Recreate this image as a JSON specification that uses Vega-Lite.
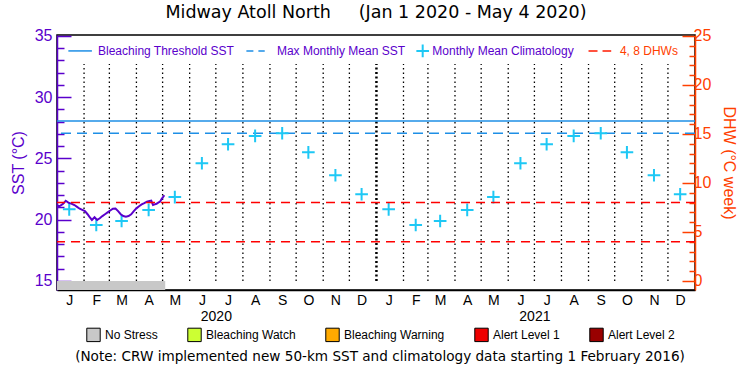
{
  "$schema": "https://vega.github.io/schema/vega-lite/v6.json",
  "width": 638,
  "height": 255,
  "autosize": {"type": "none"},
  "padding": {"left": 57, "top": 35, "right": 55, "bottom": 85},
  "background": "white",
  "config": {
    "view": {"stroke": "black", "strokeWidth": 1.5},
    "font": "Liberation Sans",
    "axis": {"grid": false, "labelOverlap": false, "labelBound": false, "labelFlush": false}
  },
  "title": {"text": "Midway Atoll North\u00a0\u00a0\u00a0\u00a0\u00a0(Jan 1 2020 - May 4 2020)", "font": "DejaVu Sans", "fontSize": 17.5, "fontWeight": "normal", "color": "black", "offset": 6, "anchor": "middle"},
  "datasets": {
    "sst": [
      {"date": "2020-01-01", "sst": 21.2}, {"date": "2020-01-03", "sst": 21.1}, {"date": "2020-01-05", "sst": 21.15},
      {"date": "2020-01-08", "sst": 21.3}, {"date": "2020-01-11", "sst": 21.55}, {"date": "2020-01-14", "sst": 21.4},
      {"date": "2020-01-18", "sst": 21.3}, {"date": "2020-01-21", "sst": 21.2}, {"date": "2020-01-24", "sst": 21.05},
      {"date": "2020-01-27", "sst": 20.9}, {"date": "2020-01-30", "sst": 20.8}, {"date": "2020-02-02", "sst": 20.7},
      {"date": "2020-02-05", "sst": 20.45}, {"date": "2020-02-07", "sst": 20.25}, {"date": "2020-02-10", "sst": 19.98},
      {"date": "2020-02-13", "sst": 20.2}, {"date": "2020-02-16", "sst": 19.98}, {"date": "2020-02-19", "sst": 20.12},
      {"date": "2020-02-22", "sst": 20.3}, {"date": "2020-02-25", "sst": 20.45}, {"date": "2020-02-28", "sst": 20.6},
      {"date": "2020-03-02", "sst": 20.75}, {"date": "2020-03-05", "sst": 20.9}, {"date": "2020-03-08", "sst": 20.92},
      {"date": "2020-03-11", "sst": 20.7}, {"date": "2020-03-14", "sst": 20.45}, {"date": "2020-03-17", "sst": 20.3},
      {"date": "2020-03-20", "sst": 20.25}, {"date": "2020-03-23", "sst": 20.3}, {"date": "2020-03-26", "sst": 20.44},
      {"date": "2020-03-29", "sst": 20.7}, {"date": "2020-04-01", "sst": 20.93}, {"date": "2020-04-04", "sst": 21.1},
      {"date": "2020-04-07", "sst": 21.25}, {"date": "2020-04-10", "sst": 21.35}, {"date": "2020-04-13", "sst": 21.47},
      {"date": "2020-04-16", "sst": 21.53}, {"date": "2020-04-18", "sst": 21.56}, {"date": "2020-04-20", "sst": 21.2},
      {"date": "2020-04-22", "sst": 21.25}, {"date": "2020-04-24", "sst": 21.3}, {"date": "2020-04-26", "sst": 21.4},
      {"date": "2020-04-28", "sst": 21.47}, {"date": "2020-04-30", "sst": 21.7}, {"date": "2020-05-02", "sst": 21.9},
      {"date": "2020-05-03", "sst": 22.0}
    ],
    "clim": [
      {"date": "2020-01-15", "sst": 20.85}, {"date": "2020-02-15", "sst": 19.57}, {"date": "2020-03-15", "sst": 19.9},
      {"date": "2020-04-15", "sst": 20.8}, {"date": "2020-05-15", "sst": 21.85}, {"date": "2020-06-15", "sst": 24.61},
      {"date": "2020-07-15", "sst": 26.16}, {"date": "2020-08-15", "sst": 26.84}, {"date": "2020-09-15", "sst": 27.06},
      {"date": "2020-10-15", "sst": 25.5}, {"date": "2020-11-15", "sst": 23.63}, {"date": "2020-12-15", "sst": 22.08},
      {"date": "2021-01-15", "sst": 20.85}, {"date": "2021-02-15", "sst": 19.57}, {"date": "2021-03-15", "sst": 19.9},
      {"date": "2021-04-15", "sst": 20.8}, {"date": "2021-05-15", "sst": 21.85}, {"date": "2021-06-15", "sst": 24.61},
      {"date": "2021-07-15", "sst": 26.16}, {"date": "2021-08-15", "sst": 26.84}, {"date": "2021-09-15", "sst": 27.06},
      {"date": "2021-10-15", "sst": 25.5}, {"date": "2021-11-15", "sst": 23.63}, {"date": "2021-12-15", "sst": 22.08}
    ],
    "months": [
      {"date": "2020-02-01", "kind": "month"}, {"date": "2020-03-01", "kind": "month"}, {"date": "2020-04-01", "kind": "month"},
      {"date": "2020-05-01", "kind": "month"}, {"date": "2020-06-01", "kind": "month"}, {"date": "2020-07-01", "kind": "month"},
      {"date": "2020-08-01", "kind": "month"}, {"date": "2020-09-01", "kind": "month"}, {"date": "2020-10-01", "kind": "month"},
      {"date": "2020-11-01", "kind": "month"}, {"date": "2020-12-01", "kind": "month"}, {"date": "2021-01-01", "kind": "year"},
      {"date": "2021-02-01", "kind": "month"}, {"date": "2021-03-01", "kind": "month"}, {"date": "2021-04-01", "kind": "month"},
      {"date": "2021-05-01", "kind": "month"}, {"date": "2021-06-01", "kind": "month"}, {"date": "2021-07-01", "kind": "month"},
      {"date": "2021-08-01", "kind": "month"}, {"date": "2021-09-01", "kind": "month"}, {"date": "2021-10-01", "kind": "month"},
      {"date": "2021-11-01", "kind": "month"}, {"date": "2021-12-01", "kind": "month"}
    ],
    "stress": [
      {"start": "2020-01-01", "end": "2020-05-04", "status": "No Stress"}
    ],
    "reflines": [
      {"name": "Bleaching Threshold SST", "sst": 28.06},
      {"name": "Max Monthly Mean SST", "sst": 27.06}
    ],
    "dhw": [{"dhw": 4}, {"dhw": 8}],
    "legend": [
      {"key": "thr", "x1": "2020-01-14", "x2": "2020-02-10", "tx": "2020-02-17", "label": "Bleaching Threshold SST", "y": 33.78},
      {"key": "mmm", "x1": "2020-08-05", "x2": "2020-08-26", "tx": "2020-09-09", "label": "Max Monthly Mean SST", "y": 33.78},
      {"key": "clim", "x1": "2021-02-23", "x2": "2021-02-23", "tx": "2021-03-06", "label": "Monthly Mean Climatology", "y": 33.78},
      {"key": "dhw", "x1": "2021-09-01", "x2": "2021-09-27", "tx": "2021-10-07", "label": "4, 8 DHWs", "y": 33.78}
    ]
  },
  "layer": [
    {
      "layer": [
        {
          "data": {"name": "stress"},
          "mark": {"type": "rect"},
          "encoding": {
            "x": {
              "field": "start", "type": "temporal",
              "scale": {"type": "utc", "domain": [{"year": 2020, "month": 1, "date": 1, "utc": true}, {"year": 2022, "month": 1, "date": 1, "utc": true}], "nice": false},
              "axis": {
                "title": null,
                "tickCount": 200,
                "values": [
                  {"year": 2020, "month": 1, "date": 15, "utc": true}, {"year": 2020, "month": 2, "date": 15, "utc": true},
                  {"year": 2020, "month": 3, "date": 15, "utc": true}, {"year": 2020, "month": 4, "date": 15, "utc": true},
                  {"year": 2020, "month": 5, "date": 15, "utc": true}, {"year": 2020, "month": 6, "date": 15, "utc": true},
                  {"year": 2020, "month": 7, "date": 1, "utc": true},
                  {"year": 2020, "month": 7, "date": 15, "utc": true}, {"year": 2020, "month": 8, "date": 15, "utc": true},
                  {"year": 2020, "month": 9, "date": 15, "utc": true}, {"year": 2020, "month": 10, "date": 15, "utc": true},
                  {"year": 2020, "month": 11, "date": 15, "utc": true}, {"year": 2020, "month": 12, "date": 15, "utc": true},
                  {"year": 2021, "month": 1, "date": 15, "utc": true}, {"year": 2021, "month": 2, "date": 15, "utc": true},
                  {"year": 2021, "month": 3, "date": 15, "utc": true}, {"year": 2021, "month": 4, "date": 15, "utc": true},
                  {"year": 2021, "month": 5, "date": 15, "utc": true}, {"year": 2021, "month": 6, "date": 15, "utc": true},
                  {"year": 2021, "month": 7, "date": 1, "utc": true},
                  {"year": 2021, "month": 7, "date": 15, "utc": true}, {"year": 2021, "month": 8, "date": 15, "utc": true},
                  {"year": 2021, "month": 9, "date": 15, "utc": true}, {"year": 2021, "month": 10, "date": 15, "utc": true},
                  {"year": 2021, "month": 11, "date": 15, "utc": true}, {"year": 2021, "month": 12, "date": 15, "utc": true}
                ],
                "labelExpr": "utcdate(datum.value) == 1 ? ['', utcFormat(datum.value, '%Y')] : substring(utcFormat(datum.value, '%b'), 0, 1)",
                "ticks": false,
                "domainColor": "black",
                "domainWidth": 1.5,
                "labelColor": "black",
                "labelFontSize": 14,
                "labelPadding": 3,
                "labelLineHeight": 16,
                "labelOverlap": false,
                "labelBound": false,
                "labelFlush": false,
                "labelAngle": 0
              }
            },
            "x2": {"field": "end"},
            "y": {
              "datum": 14.265, "type": "quantitative",
              "scale": {"domain": [14.265, 35.08], "nice": false, "zero": false},
              "axis": {
                "title": "SST (°C)",
                "titleColor": "#5a00cc",
                "titleFontSize": 16,
                "titleFontWeight": "normal",
                "titlePadding": 8,
                "tickCount": 200,
                "values": [15, 16, 17, 18, 19, 20, 21, 22, 23, 24, 25, 26, 27, 28, 29, 30, 31, 32, 33, 34, 35],
                "labelExpr": "datum.value % 5 === 0 ? datum.value : ''",
                "tickSize": {"condition": {"test": "datum.value % 5 === 0", "value": -14}, "value": -7},
                "tickColor": "#5a00cc",
                "tickWidth": 1.5,
                "domainColor": "#5a00cc",
                "domainWidth": 1.5,
                "labelColor": "#5a00cc",
                "labelFontSize": 16,
                "labelPadding": 19,
                "labelOverlap": false,
                "labelBound": false,
                "labelFlush": false
              }
            },
            "y2": {"datum": 15},
            "color": {
              "field": "status", "type": "nominal",
              "scale": {
                "domain": ["No Stress", "Bleaching Watch", "Bleaching Warning", "Alert Level 1", "Alert Level 2"],
                "range": ["#c8c8c8", "#ccff33", "#ffaa00", "#ee0000", "#990000"]
              },
              "legend": {
                "orient": "none",
                "legendX": 18,
                "legendY": 292,
                "direction": "horizontal",
                "columns": 5,
                "title": "(Note: CRW implemented new 50-km SST and climatology data starting 1 February 2016)",
                "titleOrient": "bottom",
                "titleAnchor": "middle",
                "titleFont": "DejaVu Sans",
                "titleFontSize": 13.6,
                "titleFontWeight": "normal",
                "titleColor": "black",
                "titleLimit": 1000,
                "titlePadding": 6,
                "symbolType": "square",
                "symbolSize": 180,
                "symbolStrokeColor": "black",
                "symbolStrokeWidth": 1,
                "symbolOpacity": 1,
                "labelFontSize": 12,
                "labelColor": "black",
                "labelLimit": 0,
                "columnPadding": 27
              }
            }
          }
        },
        {
          "mark": {"type": "rule", "color": "black", "strokeWidth": 1.5},
          "encoding": {"y": {"datum": 15}}
        },
        {
          "data": {"name": "months"},
          "transform": [{"filter": "datum.kind === 'month'"}],
          "mark": {"type": "rule", "color": "black", "strokeWidth": 1.3, "strokeDash": [1.5, 3]},
          "encoding": {"x": {"field": "date", "type": "temporal"}, "y": {"datum": 15}, "y2": {"datum": 32.71}}
        },
        {
          "data": {"name": "months"},
          "transform": [{"filter": "datum.kind === 'year'"}],
          "mark": {"type": "rule", "color": "black", "strokeWidth": 2.5, "strokeDash": [2, 2.5]},
          "encoding": {"x": {"field": "date", "type": "temporal"}, "y": {"datum": 15}, "y2": {"datum": 32.71}}
        },
        {
          "data": {"name": "reflines"},
          "transform": [{"filter": "datum.name === 'Bleaching Threshold SST'"}],
          "mark": {"type": "rule", "color": "#1e8fe6", "strokeWidth": 1.5},
          "encoding": {"y": {"field": "sst", "type": "quantitative"}}
        },
        {
          "data": {"name": "reflines"},
          "transform": [{"filter": "datum.name === 'Max Monthly Mean SST'"}],
          "mark": {"type": "rule", "color": "#1e8fe6", "strokeWidth": 1.5, "strokeDash": [10, 6]},
          "encoding": {"y": {"field": "sst", "type": "quantitative"}}
        },
        {
          "data": {"name": "clim"},
          "mark": {"type": "point", "shape": "M-1,0H1M0,-1V1", "filled": false, "size": 160, "strokeWidth": 2, "color": "#1ec8f5", "opacity": 1},
          "encoding": {"x": {"field": "date", "type": "temporal"}, "y": {"field": "sst", "type": "quantitative"}}
        },
        {
          "data": {"name": "sst"},
          "mark": {"type": "line", "color": "#5a00cc", "strokeWidth": 2},
          "encoding": {"x": {"field": "date", "type": "temporal"}, "y": {"field": "sst", "type": "quantitative"}}
        },
        {
          "data": {"name": "legend"},
          "transform": [{"filter": "datum.key === 'thr'"}],
          "mark": {"type": "rule", "color": "#1e8fe6", "strokeWidth": 1.5},
          "encoding": {"x": {"field": "x1", "type": "temporal"}, "x2": {"field": "x2"}, "y": {"field": "y", "type": "quantitative"}}
        },
        {
          "data": {"name": "legend"},
          "transform": [{"filter": "datum.key === 'mmm'"}],
          "mark": {"type": "rule", "color": "#1e8fe6", "strokeWidth": 1.5, "strokeDash": [7, 5]},
          "encoding": {"x": {"field": "x1", "type": "temporal"}, "x2": {"field": "x2"}, "y": {"field": "y", "type": "quantitative"}}
        },
        {
          "data": {"name": "legend"},
          "transform": [{"filter": "datum.key === 'clim'"}],
          "mark": {"type": "point", "shape": "M-1,0H1M0,-1V1", "filled": false, "size": 160, "strokeWidth": 2, "color": "#1ec8f5", "opacity": 1},
          "encoding": {"x": {"field": "x1", "type": "temporal"}, "y": {"field": "y", "type": "quantitative"}}
        },
        {
          "data": {"name": "legend"},
          "transform": [{"filter": "datum.key === 'dhw'"}],
          "mark": {"type": "rule", "color": "#ff1a00", "strokeWidth": 1.5, "strokeDash": [9, 5]},
          "encoding": {"x": {"field": "x1", "type": "temporal"}, "x2": {"field": "x2"}, "y": {"field": "y", "type": "quantitative"}}
        },
        {
          "data": {"name": "legend"},
          "transform": [{"filter": "datum.key !== 'dhw'"}],
          "mark": {"type": "text", "color": "#5a00cc", "fontSize": 12, "align": "left", "baseline": "middle"},
          "encoding": {"x": {"field": "tx", "type": "temporal"}, "y": {"field": "y", "type": "quantitative"}, "text": {"field": "label"}}
        },
        {
          "data": {"name": "legend"},
          "transform": [{"filter": "datum.key === 'dhw'"}],
          "mark": {"type": "text", "color": "#ff4000", "fontSize": 12, "align": "left", "baseline": "middle"},
          "encoding": {"x": {"field": "tx", "type": "temporal"}, "y": {"field": "y", "type": "quantitative"}, "text": {"field": "label"}}
        }
      ]
    },
    {
      "data": {"name": "dhw"},
      "mark": {"type": "rule", "color": "#ff0000", "strokeWidth": 1.5, "strokeDash": [9, 6]},
      "encoding": {
        "y": {
          "field": "dhw", "type": "quantitative",
          "scale": {"domain": [-0.919, 25.1], "nice": false, "zero": false},
          "axis": {
            "orient": "right",
            "title": "DHW (°C week)",
            "titleColor": "#ff4000",
            "titleFontSize": 16,
            "titleFontWeight": "normal",
            "titlePadding": 10,
            "tickCount": 200,
            "values": [0, 1, 2, 3, 4, 5, 6, 7, 8, 9, 10, 11, 12, 13, 14, 15, 16, 17, 18, 19, 20, 21, 22, 23, 24, 25],
            "labelExpr": "datum.value % 5 === 0 ? datum.value : ''",
            "tickSize": {"condition": {"test": "datum.value % 5 === 0", "value": -13}, "value": -6},
            "tickColor": "#ff4000",
            "tickWidth": 1.5,
            "domainColor": "#ff4000",
            "domainWidth": 1.5,
            "labelColor": "#ff4000",
            "labelFontSize": 16,
            "labelPadding": 11,
            "labelOverlap": false,
            "labelBound": false,
            "labelFlush": false
          }
        }
      }
    }
  ],
  "resolve": {"scale": {"y": "independent"}, "axis": {"y": "independent"}}
}
